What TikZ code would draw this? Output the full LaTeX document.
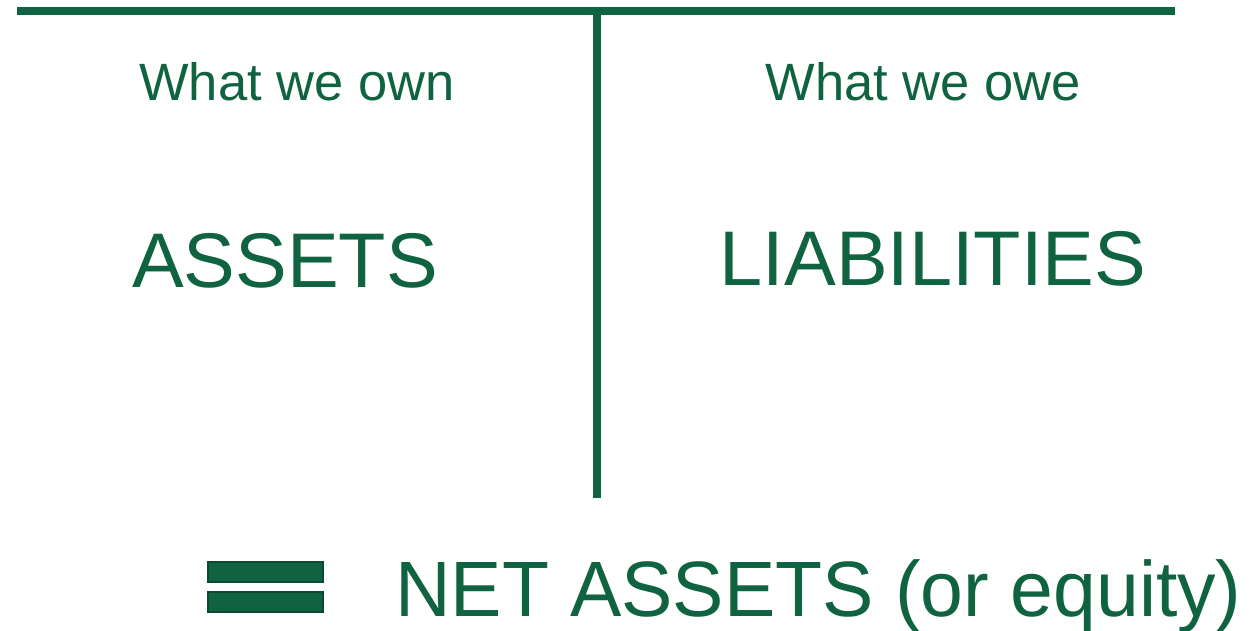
\documentclass[tikz,border=0pt]{standalone}
\usepackage{fontspec}
\setmainfont{Liberation Sans}
\definecolor{acctgreen}{HTML}{0F6340}
\definecolor{acctdark}{HTML}{0B4A30}
\begin{document}
\begin{tikzpicture}[x=1pt,y=-1pt,
  rule/.style={draw=acctgreen,line width=8pt},
  head/.style={text=acctgreen,inner sep=0pt,anchor=base,font=\fontsize{52.5}{60}\selectfont},
  big/.style={text=acctgreen,inner sep=0pt,anchor=base,font=\fontsize{77.5}{90}\selectfont},
  bar/.style={fill=acctgreen,draw=acctdark,line width=2pt,minimum width=115pt,minimum height=20pt,inner sep=0pt}]
\useasboundingbox (0,0) rectangle (1251,630);
% T-account frame
\coordinate (tl) at (17,11);
\coordinate (tr) at (1175,11);
\coordinate (vt) at (597,11);
\coordinate (vb) at (597,498);
\draw[rule] (tl) -- (tr);
\draw[rule] (vt) -- (vb);
% column headings
\node[head] (own) at (297,100) {What we own};
\node[head] (owe) at (923,100) {What we owe};
\node[big] (assets) at (285,287) {ASSETS};
\node[big] (liab) at (933,285) {LIABILITIES};
% equals sign and result
\node[bar] (eqtop) at (265.5,572) {};
\node[bar] (eqbot) at (265.5,602) {};
\node[text=acctgreen,inner sep=0pt,anchor=base west,font=\fontsize{78.5}{90}\selectfont] (net) at (395,616.5) {\scalebox{0.98}[1]{NET ASSETS (or equity)}};
\end{tikzpicture}
\end{document}
